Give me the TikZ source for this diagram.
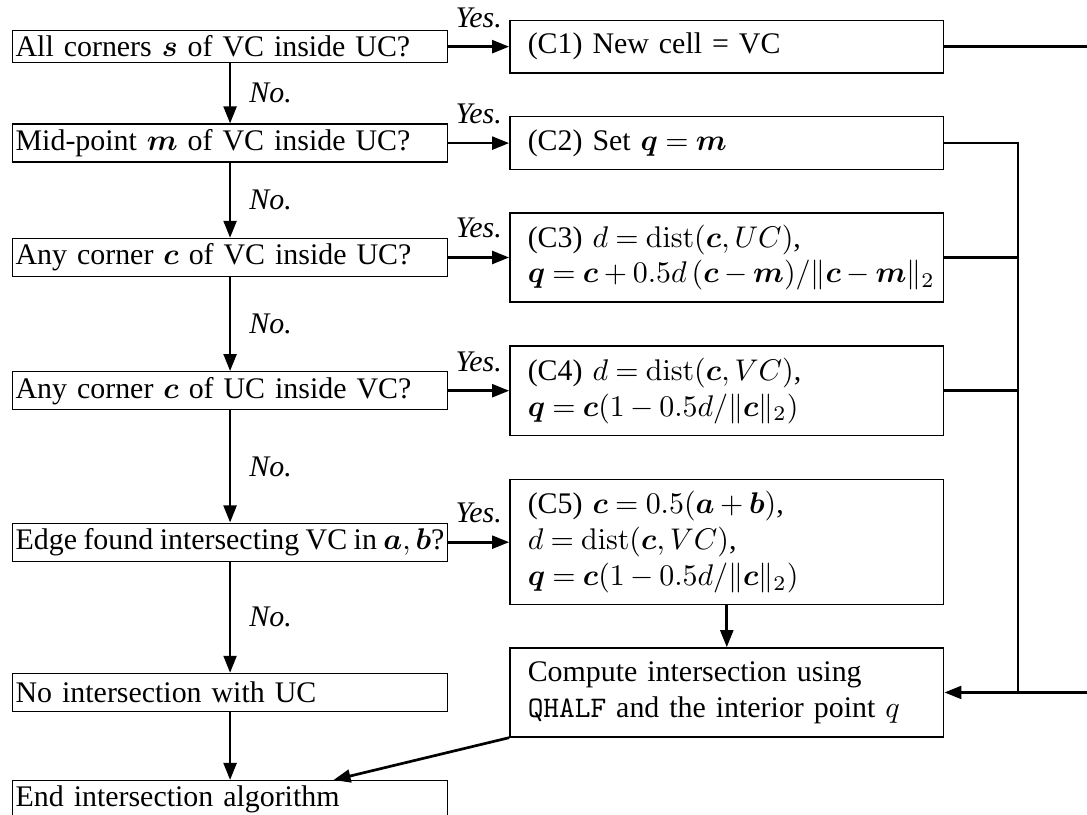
\documentclass[tikz,border=0pt]{standalone}
\usepackage{amsmath}
\usepackage[no-math]{fontspec}
\setmainfont{Liberation Serif}
\usepackage{tikz}
\usetikzlibrary{arrows.meta,positioning}
\newcommand{\bv}[1]{\ensuremath{\boldsymbol{#1}}}
\newcommand{\distop}{\operatorname{dist}}

\begin{document}
\begin{tikzpicture}[>={Triangle[length=5.7pt,width=4.3pt]},
  node distance=20pt and 20.4pt,
  box/.style={draw, line width=0.45pt, align=left},
  qbox/.style={box, text width=143.4pt, inner xsep=1pt, inner ysep=1pt, minimum height=12.7pt},
  tight/.style={execute at begin node={\spaceskip=0.22em plus 0.1em minus 0.04em\relax}},
  cbox/.style={box, text width=140.1pt, inner xsep=2.5pt, minimum height=17.7pt,
    execute at begin node={\leftskip=3.5pt\relax
      \medmuskip=3.4mu plus 2mu minus 3mu\relax\thickmuskip=4.4mu plus 5mu\relax}},
  two/.style={minimum height=29.8pt},
  three/.style={minimum height=41.8pt},
  flow/.style={->, line width=0.9pt},
  wire/.style={line width=0.9pt},
  ylab/.style={font=\itshape, midway, above=2.6pt},
  nlab/.style={font=\itshape, midway, right=2.7pt},
]
\useasboundingbox (-4.01pt,10.03pt) rectangle (359.48pt,-262.5pt);
% questions, left column
\node[qbox, minimum height=10.7pt, anchor=north west] (Q1) at (0,0) {All corners \bv{s} of VC inside UC?};
\node[qbox, below=20.1pt of Q1] (Q2) {Mid-point \bv{m} of VC inside UC?};
\node[qbox, below=25.1pt of Q2] (Q3) {Any corner \bv{c} of VC inside UC?};
\node[qbox, below=31.4pt of Q3] (Q4) {Any corner \bv{c} of UC inside VC?};
\node[qbox, tight, below=37.5pt of Q4] (Q5) {Edge found intersecting VC in $\bv{a},\bv{b}$?};
\node[qbox, below=37.1pt of Q5] (Q6) {No intersection with UC};
\node[qbox, below=22.7pt of Q6] (Q7) {End intersection algorithm};
% cases, right column
\node[cbox, right=of Q1] (C1) {(C1) New cell = VC};
\node[cbox, right=of Q2] (C2) {(C2) Set $\bv{q} = \bv{m}$};
\node[cbox, two, right=of Q3] (C3) {(C3) $d = \distop(\bv{c}, UC)$,\\
  $\bv{q} = \bv{c} + 0.5d\,(\bv{c} - \bv{m})/\|\bv{c} - \bv{m}\|_2$};
\node[cbox, two, right=of Q4] (C4) {(C4) $d = \distop(\bv{c}, VC)$,\\
  $\bv{q} = \bv{c}(1 - 0.5d/\|\bv{c}\|_2)$};
\node[cbox, three, right=of Q5] (C5) {(C5) $\bv{c} = 0.5(\bv{a} + \bv{b})$,\\
  $d = \distop(\bv{c}, VC)$,\\
  $\bv{q} = \bv{c}(1 - 0.5d/\|\bv{c}\|_2)$};
\node[cbox, two, right=of Q6] (CI) {Compute intersection using\\
  \texttt{QHALF} and the interior point $q$};
\coordinate (rail) at (336.4pt,0);
\coordinate (rim) at (359.48pt,0);
% no branches
\draw[flow] (Q1) -- node[nlab] {No.} (Q2);
\draw[flow] (Q2) -- node[nlab] {No.} (Q3);
\draw[flow] (Q3) -- node[nlab] {No.} (Q4);
\draw[flow] (Q4) -- node[nlab] {No.} (Q5);
\draw[flow] (Q5) -- node[nlab] {No.} (Q6);
\draw[flow] (Q6) -- (Q7);
% yes branches
\draw[flow] (Q1) -- node[ylab] {Yes.} (C1);
\draw[flow] (Q2) -- node[ylab] {Yes.} (C2);
\draw[flow] (Q3) -- node[ylab] {Yes.} (C3);
\draw[flow] (Q4) -- node[ylab] {Yes.} (C4);
\draw[flow] (Q5) -- node[ylab] {Yes.} (C5);
% back to the intersection step
\draw[wire] (C1.east) -- (C1.east -| rim);
\draw[wire] (C2.east) -- (C2.east -| rail) -- (CI.east -| rail);
\draw[wire] (C3.east) -- (C3.east -| rail);
\draw[wire] (C4.east) -- (C4.east -| rail);
\draw[flow] (CI.east -| rim) -- (CI.east);
\draw[flow] (C5) -- (CI);
\draw[flow] (CI.south west) -- ([xshift=34.6pt]Q7.north);
\end{tikzpicture}
\end{document}
